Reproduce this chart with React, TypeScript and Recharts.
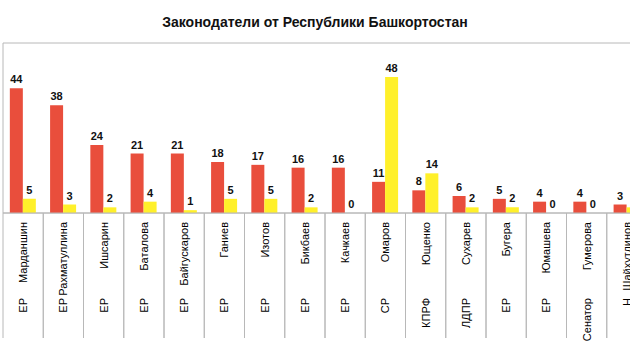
import { BarChart, Bar, XAxis, YAxis, CartesianGrid, Rectangle } from "recharts";

const parties = ["ЕР", "ЕР", "ЕР", "ЕР", "ЕР", "ЕР", "ЕР", "ЕР", "ЕР", "СР", "КПРФ", "ЛДПР", "ЕР", "ЕР", "Сенатор", "Н"];
const names = [
  "Марданшин",
  "Рахматуллина",
  "Ишсарин",
  "Баталова",
  "Байгускаров",
  "Ганиев",
  "Изотов",
  "Бикбаев",
  "Качкаев",
  "Омаров",
  "Ющенко",
  "Сухарев",
  "Бугера",
  "Юмашева",
  "Гумерова",
  "Шайхутдинов",
];
const redValues = [44, 38, 24, 21, 21, 18, 17, 16, 16, 11, 8, 6, 5, 4, 4, 3];
const yellowValues = [5, 3, 2, 4, 1, 5, 5, 2, 0, 48, 14, 2, 2, 0, 0, 2];
const yTicks = [0, 10, 20, 30, 40, 50, 60];

const data = names.map((name, i) => ({
  name,
  party: parties[i],
  red: redValues[i],
  yellow: yellowValues[i],
}));

const CHART_W = 650;
const CHART_H = 355;
const MARGIN = { top: 43, right: 3, left: 0, bottom: 0 };
const AXIS_W = 3;
const band = (CHART_W - MARGIN.left - MARGIN.right - AXIS_W) / data.length;
const FONT = "'Liberation Sans', Arial, sans-serif";
const LINE = "#b8b8b8";

function CategoryTick(props: any) {
  const { x, y, index } = props;
  const row = data[index];
  if (!row) return null;
  const label = (text: string, top: number) => (
    <text
      x={x}
      y={y + top}
      transform={`rotate(-90, ${x}, ${y + top})`}
      textAnchor="end"
      dominantBaseline="central"
      fontSize={11}
      fill="#000"
      fontFamily={FONT}
    >
      {text}
    </text>
  );
  return (
    <g>
      <line x1={x - band / 2} y1={y} x2={x - band / 2} y2={y + 125} stroke={LINE} />
      <line x1={x + band / 2} y1={y} x2={x + band / 2} y2={y + 125} stroke={LINE} />
      {label(row.name, 9)}
      {label(row.party, 85)}
    </g>
  );
}

// bar plus its value label, so that zero values get a label too
function BarWithLabel(props: any) {
  const { x, y, width, height, fill, value } = props;
  const v = Array.isArray(value) ? value[1] - value[0] : value;
  return (
    <g>
      {height > 0 && <Rectangle x={x} y={y} width={width} height={height} fill={fill} />}
      <text
        x={x + width / 2}
        y={y - 5}
        textAnchor="middle"
        fontSize={11}
        fontWeight="bold"
        fill="#111"
        fontFamily={FONT}
      >
        {v}
      </text>
    </g>
  );
}

export default function App() {
  return (
    <div
      style={{
        position: "fixed",
        left: 0,
        top: 0,
        width: 630,
        height: 355,
        overflow: "hidden",
        background: "#fff",
        fontFamily: FONT,
      }}
    >
      <div
        style={{
          position: "absolute",
          top: 14,
          left: 0,
          width: 630,
          textAlign: "center",
          fontSize: 14,
          fontWeight: "bold",
          color: "#111",
          lineHeight: "16px",
        }}
      >
        Законодатели от Республики Башкортостан
      </div>
      <div style={{ position: "absolute", left: 0, top: 0 }}>
        <BarChart
          width={CHART_W}
          height={CHART_H}
          data={data}
          margin={MARGIN}
          barCategoryGap="17%"
          barGap={0}
        >
          <CartesianGrid vertical={false} stroke={LINE} />
          <YAxis
            width={AXIS_W}
            domain={[0, 60]}
            ticks={yTicks}
            tick={false}
            tickSize={3}
            stroke={LINE}
          />
          <XAxis
            dataKey="name"
            interval={0}
            height={CHART_H - MARGIN.top - 170}
            tickLine={false}
            tickSize={0}
            tickMargin={0}
            tick={<CategoryTick />}
            stroke={LINE}
          />
          <Bar dataKey="red" fill="#e94e3c" isAnimationActive={false} shape={<BarWithLabel />} />
          <Bar dataKey="yellow" fill="#fff02a" isAnimationActive={false} shape={<BarWithLabel />} />
        </BarChart>
      </div>
    </div>
  );
}
